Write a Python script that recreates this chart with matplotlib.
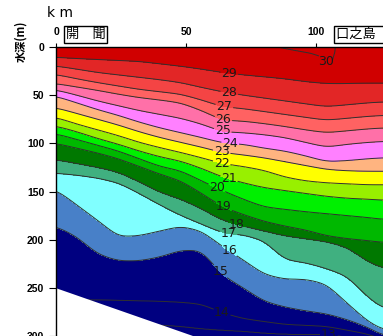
import numpy as np
import matplotlib
matplotlib.use("Agg")
import matplotlib.pyplot as plt

# ---------------- data ----------------
station_km = [0, 8, 16, 24, 32, 40, 48, 56, 64, 72, 80, 88, 96, 104, 112, 120, 126]

# depth (m) of each isotherm at the stations
iso29 = [10.7, 12, 13, 14, 15, 17.5, 20, 23, 26.5, 29, 31, 33, 36, 38, 38, 37.5, 37.5]
iso28 = [19.7, 23, 26.5, 29, 31.5, 34, 37, 42, 46.5, 50, 53, 56, 59, 62, 60, 58, 57]
iso27 = [28.5, 33, 37, 40.5, 44, 46.5, 49, 55, 62, 64, 67, 70, 73, 76, 74, 72, 71]
iso26 = [38, 41.5, 45, 49, 52.5, 55, 58, 66, 76, 77, 79.5, 82.5, 86, 89, 87, 85, 84]
iso25 = [44.5, 50, 56, 61, 66, 70, 74, 80, 88, 89, 91, 94, 99, 104, 101, 99, 98]
iso24 = [51, 58, 65, 71, 78, 84, 89, 94, 99.5, 101, 105, 108, 113, 119, 118, 116, 115]
iso23 = [63, 69, 75, 81, 88, 94, 99, 104, 109.5, 112, 115, 119, 123, 127, 128.5, 129, 129]
iso22 = [73, 80, 86, 92, 99, 104.5, 109.5, 115, 121, 124, 128, 135, 139, 141, 142, 143, 143]
iso21 = [82, 88, 95, 101, 108, 114, 118.5, 126, 135, 141, 146, 149, 152, 155, 157, 158, 159]
iso20 = [90, 96, 102, 108, 116, 124, 128.5, 139, 149, 158, 166, 168.5, 171, 173, 175, 177, 179]
iso19 = [100, 105, 110, 116, 124, 132, 139, 152, 166, 174, 181, 186, 190, 196, 199, 201, 203]
iso18 = [117, 121, 125, 130, 140, 151, 158, 168, 180, 186, 191, 196, 199, 202, 208, 223, 230]
iso17 = [131, 133, 136, 141, 152, 164, 175, 184, 193, 195, 201, 221, 224, 230, 238, 260, 272]
iso16 = [148, 164, 180, 197, 196, 191, 186, 191, 207, 221, 236, 241, 241, 246, 266, 285, 294]
iso15 = [186, 197, 215, 222, 222, 218, 211, 211, 237, 250, 264, 270, 274, 277, 283, 291, 300]
iso14 = [262, 262.5, 262.5, 263, 263.5, 264, 265, 267, 276, 282, 285, 288, 289, 290, 294, 298, 304]
iso13 = [288, 288, 288, 288, 288, 288.5, 290, 292.5, 294, 295, 297, 298, 298.5, 298, 301, 304, 308]

# small warm (>30 C) pool at the surface
km30 = [86, 92, 98, 102, 104.5, 106, 107.5]
iso30 = [0.3, 3.5, 6.5, 10, 16, 20, 0.3]

surface_temp = 29.8
surface_temp_warm = 30.4
deep_depth = 400.0
deep_temp = 12.0

seabed_km = [0, 52, 126]
seabed_depth = [250, 299, 369]

label_temps = [30, 29, 28, 27, 26, 25, 24, 23, 22, 21, 20, 19, 18, 17, 16, 15, 14, 13]
label_km = [102.5, 66.5, 66.5, 64.6, 64.2, 64.0, 67.0, 63.7, 63.7, 66.5, 61.8, 64.4,
            69.5, 66.3, 66.9, 62.5, 63.5, 105.0]
label_depth = [20, 31, 51, 64, 77.5, 89, 100.6, 109.6, 121, 137.5, 147, 167,
               185.6, 195, 210.5, 235.5, 278, 298]

fill_levels = list(range(12, 32))  # 12..31
band_colors = ['#000080', '#000080', '#000080',   # 12-15
               '#4880C8',                          # 15-16
               '#80FFFF',                          # 16-17
               '#40B080',                          # 17-18
               '#007800',                          # 18-19
               '#00B800',                          # 19-20
               '#00F000',                          # 20-21
               '#98F000',                          # 21-22
               '#FFFF00',                          # 22-23
               '#FFB480',                          # 23-24
               '#FF80FF',                          # 24-25
               '#FF70A8',                          # 25-26
               '#FF6262',                          # 26-27
               '#F44444',                          # 27-28
               '#E22626',                          # 28-29
               '#D00000', '#D00000']               # 29-31

x_ticks = [0, 50, 100]
y_ticks = [0, 50, 100, 150, 200, 250, 300]

# ---------------- build the temperature field ----------------
iso_table = {29: iso29, 28: iso28, 27: iso27, 26: iso26, 25: iso25, 24: iso24,
             23: iso23, 22: iso22, 21: iso21, 20: iso20, 19: iso19, 18: iso18,
             17: iso17, 16: iso16, 15: iso15, 14: iso14, 13: iso13}
iso_levels = sorted(iso_table.keys(), reverse=True)

xg = np.linspace(0, 126, 505)
zg = np.linspace(0, 320, 641)
dx = xg[1] - xg[0]


def smooth(profile, sigma_km=2.5):
    """Gaussian smoothing of an isotherm depth profile along x (edge padded)."""
    half = int(3 * sigma_km / dx)
    k = np.exp(-0.5 * (np.arange(-half, half + 1) * dx / sigma_km) ** 2)
    k /= k.sum()
    padded = np.pad(profile, half, mode='edge')
    return np.convolve(padded, k, mode='valid')


iso_fine = {lev: smooth(np.interp(xg, station_km, iso_table[lev])) for lev in iso_levels}
iso30_fine = smooth(np.interp(xg, km30, iso30, left=0.0, right=0.0), 0.6)

T = np.empty((zg.size, xg.size))
for j, x in enumerate(xg):
    if km30[0] < x < km30[-1] and iso30_fine[j] > 0.2:
        deps = [0.0, float(iso30_fine[j])]
        temps = [surface_temp_warm, 30.0]
    else:
        deps = [0.0]
        temps = [surface_temp]
    for lev in iso_levels:
        deps.append(float(iso_fine[lev][j]))
        temps.append(float(lev))
    deps.append(deep_depth)
    temps.append(deep_temp)
    T[:, j] = np.interp(zg, deps, temps)

# ---------------- figure ----------------
W, H = 383, 336
fig = plt.figure(figsize=(W / 100, H / 100), dpi=100)
ax = fig.add_axes([56 / W, 0, 1 - 56 / W, 1 - 47 / H])

ax.contourf(xg, zg, T, levels=fill_levels, colors=band_colors, zorder=1)

for lev, lx, ly in zip(label_temps, label_km, label_depth):
    cs = ax.contour(xg, zg, T, levels=[lev], colors='#303030', linewidths=0.7, zorder=2)
    texts = ax.clabel(cs, manual=[(lx, ly)], inline=True, inline_spacing=1,
                      fmt='%d', fontsize=9, colors='#1a1a1a')
    for t in texts:
        t.set_rotation(0)
        t.set_zorder(5)

ax.fill_between(xg, np.interp(xg, seabed_km, seabed_depth), 330,
                color='white', lw=0, zorder=2.2)

ax.set_xlim(0, 125.8)
ax.set_ylim(300, 0)

for s in ['right', 'bottom']:
    ax.spines[s].set_visible(False)
for s in ['left', 'top']:
    ax.spines[s].set_linewidth(1.0)
    ax.spines[s].set_color('black')
    ax.spines[s].set_zorder(6)

ax.xaxis.tick_top()
ax.set_xticks(x_ticks)
ax.set_yticks(y_ticks)
ax.tick_params(axis='x', direction='out', length=3, width=0.8, pad=4.5, labelsize=7.5)
ax.tick_params(axis='y', direction='out', length=5, width=0.8, pad=3.5, labelsize=7.5)
for lbl in ax.get_xticklabels() + ax.get_yticklabels():
    lbl.set_fontfamily('Liberation Sans')
    lbl.set_fontweight('bold')

cjk = ['Noto Sans CJK JP', 'DejaVu Sans']
fig.text(60 / W, 1 - 13 / H, 'k m', ha='center', va='center', fontsize=10,
         family='DejaVu Sans')
fig.text(21 / W, 1 - 41 / H, '水深(m)', rotation=90, ha='center', va='center',
         fontsize=8, family=cjk, fontweight='bold')
fig.text(85.5 / W, 1 - 34.5 / H, '開\u3000聞', ha='center', va='center', fontsize=9.5,
         family=cjk, bbox=dict(boxstyle='square,pad=0.12', fc='white', ec='black', lw=1))
fig.text(336 / W, 1 - 34.5 / H, '口之島\u3000', ha='left', va='center', fontsize=9.5,
         family=cjk, bbox=dict(boxstyle='square,pad=0.12', fc='white', ec='black', lw=1))

fig.savefig('out.png', dpi=100)
